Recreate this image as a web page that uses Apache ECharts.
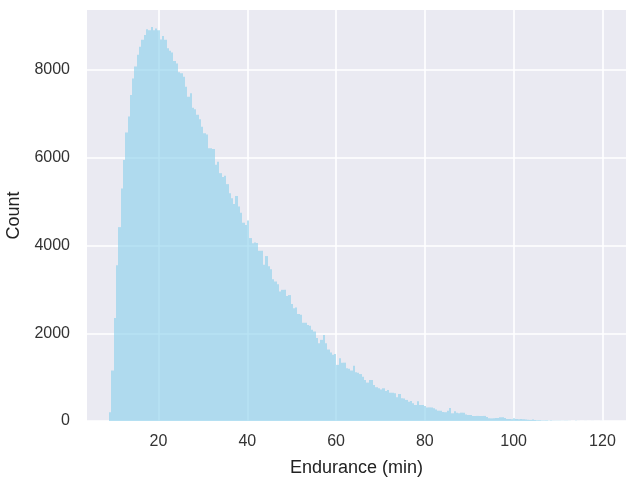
<!DOCTYPE html>
<html>
<head>
<meta charset="utf-8">
<script src="https://cdn.jsdelivr.net/npm/echarts@6/dist/echarts.min.js"></script>
<style>
  html, body { margin: 0; padding: 0; background: #fff; }
  #chart { width: 634px; height: 481px; }
</style>
</head>
<body>
<div id="chart"></div>
<script>
// histogram bins: left edge of first bin and bin width (minutes)
const binStart = 8.9
const binWidth = 0.517

// counts per bin
const counts = [
  200, 1150, 2350, 3550, 4420, 5300, 5950, 6580, 6940, 7430, 7810, 8080, 8350, 8530, 8690, 8800,
  8930, 8910, 8980, 8910, 8950, 8910, 8700, 8780, 8690, 8500, 8440, 8400, 8210, 8150, 7950, 7930, 7850,
  7620, 7390, 7470, 7140, 7110, 6980, 6880, 6710, 6560, 6530, 6220, 6220, 6200, 5840, 5910, 5650,
  5560, 5590, 5400, 5190, 5080, 4950, 5130, 4890, 4750, 4520, 4470, 4570, 4170, 4050, 4070, 4060,
  3880, 3880, 3560,
  3760, 3530, 3460, 3230, 3180, 3120, 2950, 2990, 2990, 2850, 2870, 2670, 2570, 2590, 2440, 2420,
  2240, 2240, 2190, 2170, 2080, 2040, 1890, 1770, 1850, 1960, 1770, 1630, 1560, 1510, 1530, 1280,
  1430, 1330, 1330, 1200,
  1190, 1150, 1260, 1110, 1100, 1070, 1010, 935, 875, 935, 935, 820, 770, 745, 720, 745, 685, 705,
  645, 645, 630, 540, 615, 520, 515, 480, 440, 455, 405, 365, 450, 365, 365, 340, 310,
  310, 310, 290, 265, 235, 235, 205, 200, 235, 295, 175, 220, 190, 175, 190, 190, 150, 137, 137,
  115, 115, 115, 115, 115, 115, 90, 60, 60, 60, 68, 68, 84, 84, 68, 46, 46, 40, 60, 46, 40, 46, 40, 35,
  30, 25, 35, 20, 15, 18, 12, 10, 14, 8, 9, 6, 7, 5, 6, 4, 3, 4, 3, 2, 2, 3, 1, 2, 1, 1, 2, 1, 1, 0, 1, 0, 1, 1
]

const xTicks = [20, 40, 60, 80, 100, 120]
const yTicks = [0, 2000, 4000, 6000, 8000]

const data = counts.map((c, i) => [binStart + i * binWidth, c])

const font = '"Liberation Sans", Arial, sans-serif'

const chart = echarts.init(document.getElementById('chart'))
chart.setOption({
  animation: false,
  grid: {
    left: 87,
    right: 8,
    top: 10,
    bottom: 60,
    outerBoundsMode: 'none',
    containLabel: false,
    show: true,
    backgroundColor: '#EAEAF2',
    borderWidth: 0
  },
  xAxis: {
    type: 'value',
    min: 3.9,
    max: 125.3,
    name: 'Endurance (min)',
    nameLocation: 'middle',
    nameGap: 38,
    nameTextStyle: { fontFamily: font, fontSize: 18, color: '#222' },
    axisLine: { show: false },
    axisTick: { show: false, customValues: xTicks },
    axisLabel: { customValues: xTicks, fontFamily: font, fontSize: 16, color: '#333', margin: 13 },
    splitLine: { show: true, lineStyle: { color: '#fff', width: 1.6 } }
  },
  yAxis: {
    type: 'value',
    min: 0,
    max: 9370,
    name: 'Count',
    nameLocation: 'middle',
    nameGap: 60,
    nameTextStyle: { fontFamily: font, fontSize: 18, color: '#222' },
    axisLine: { show: false },
    axisTick: { show: false, customValues: yTicks },
    axisLabel: {
      customValues: yTicks,
      formatter: v => String(v),
      fontFamily: font, fontSize: 16, color: '#333', margin: 17
    },
    splitLine: { show: true, lineStyle: { color: '#fff', width: 1.6 } }
  },
  series: [{
    type: 'custom',
    data: data,
    encode: { x: 0, y: 1 },
    renderItem: function (params, api) {
      const x0 = api.value(0)
      const top = api.coord([x0, api.value(1)])
      const bottom = api.coord([x0 + binWidth, 0])
      // snap to whole pixels so neighbouring bins do not leave seams
      const left = Math.round(top[0])
      const right = Math.round(bottom[0])
      return {
        type: 'rect',
        shape: { x: left, y: top[1], width: right - left, height: bottom[1] - top[1] },
        style: { fill: 'rgba(135,206,235,0.6)' }
      }
    }
  }]
})
</script>
</body>
</html>
